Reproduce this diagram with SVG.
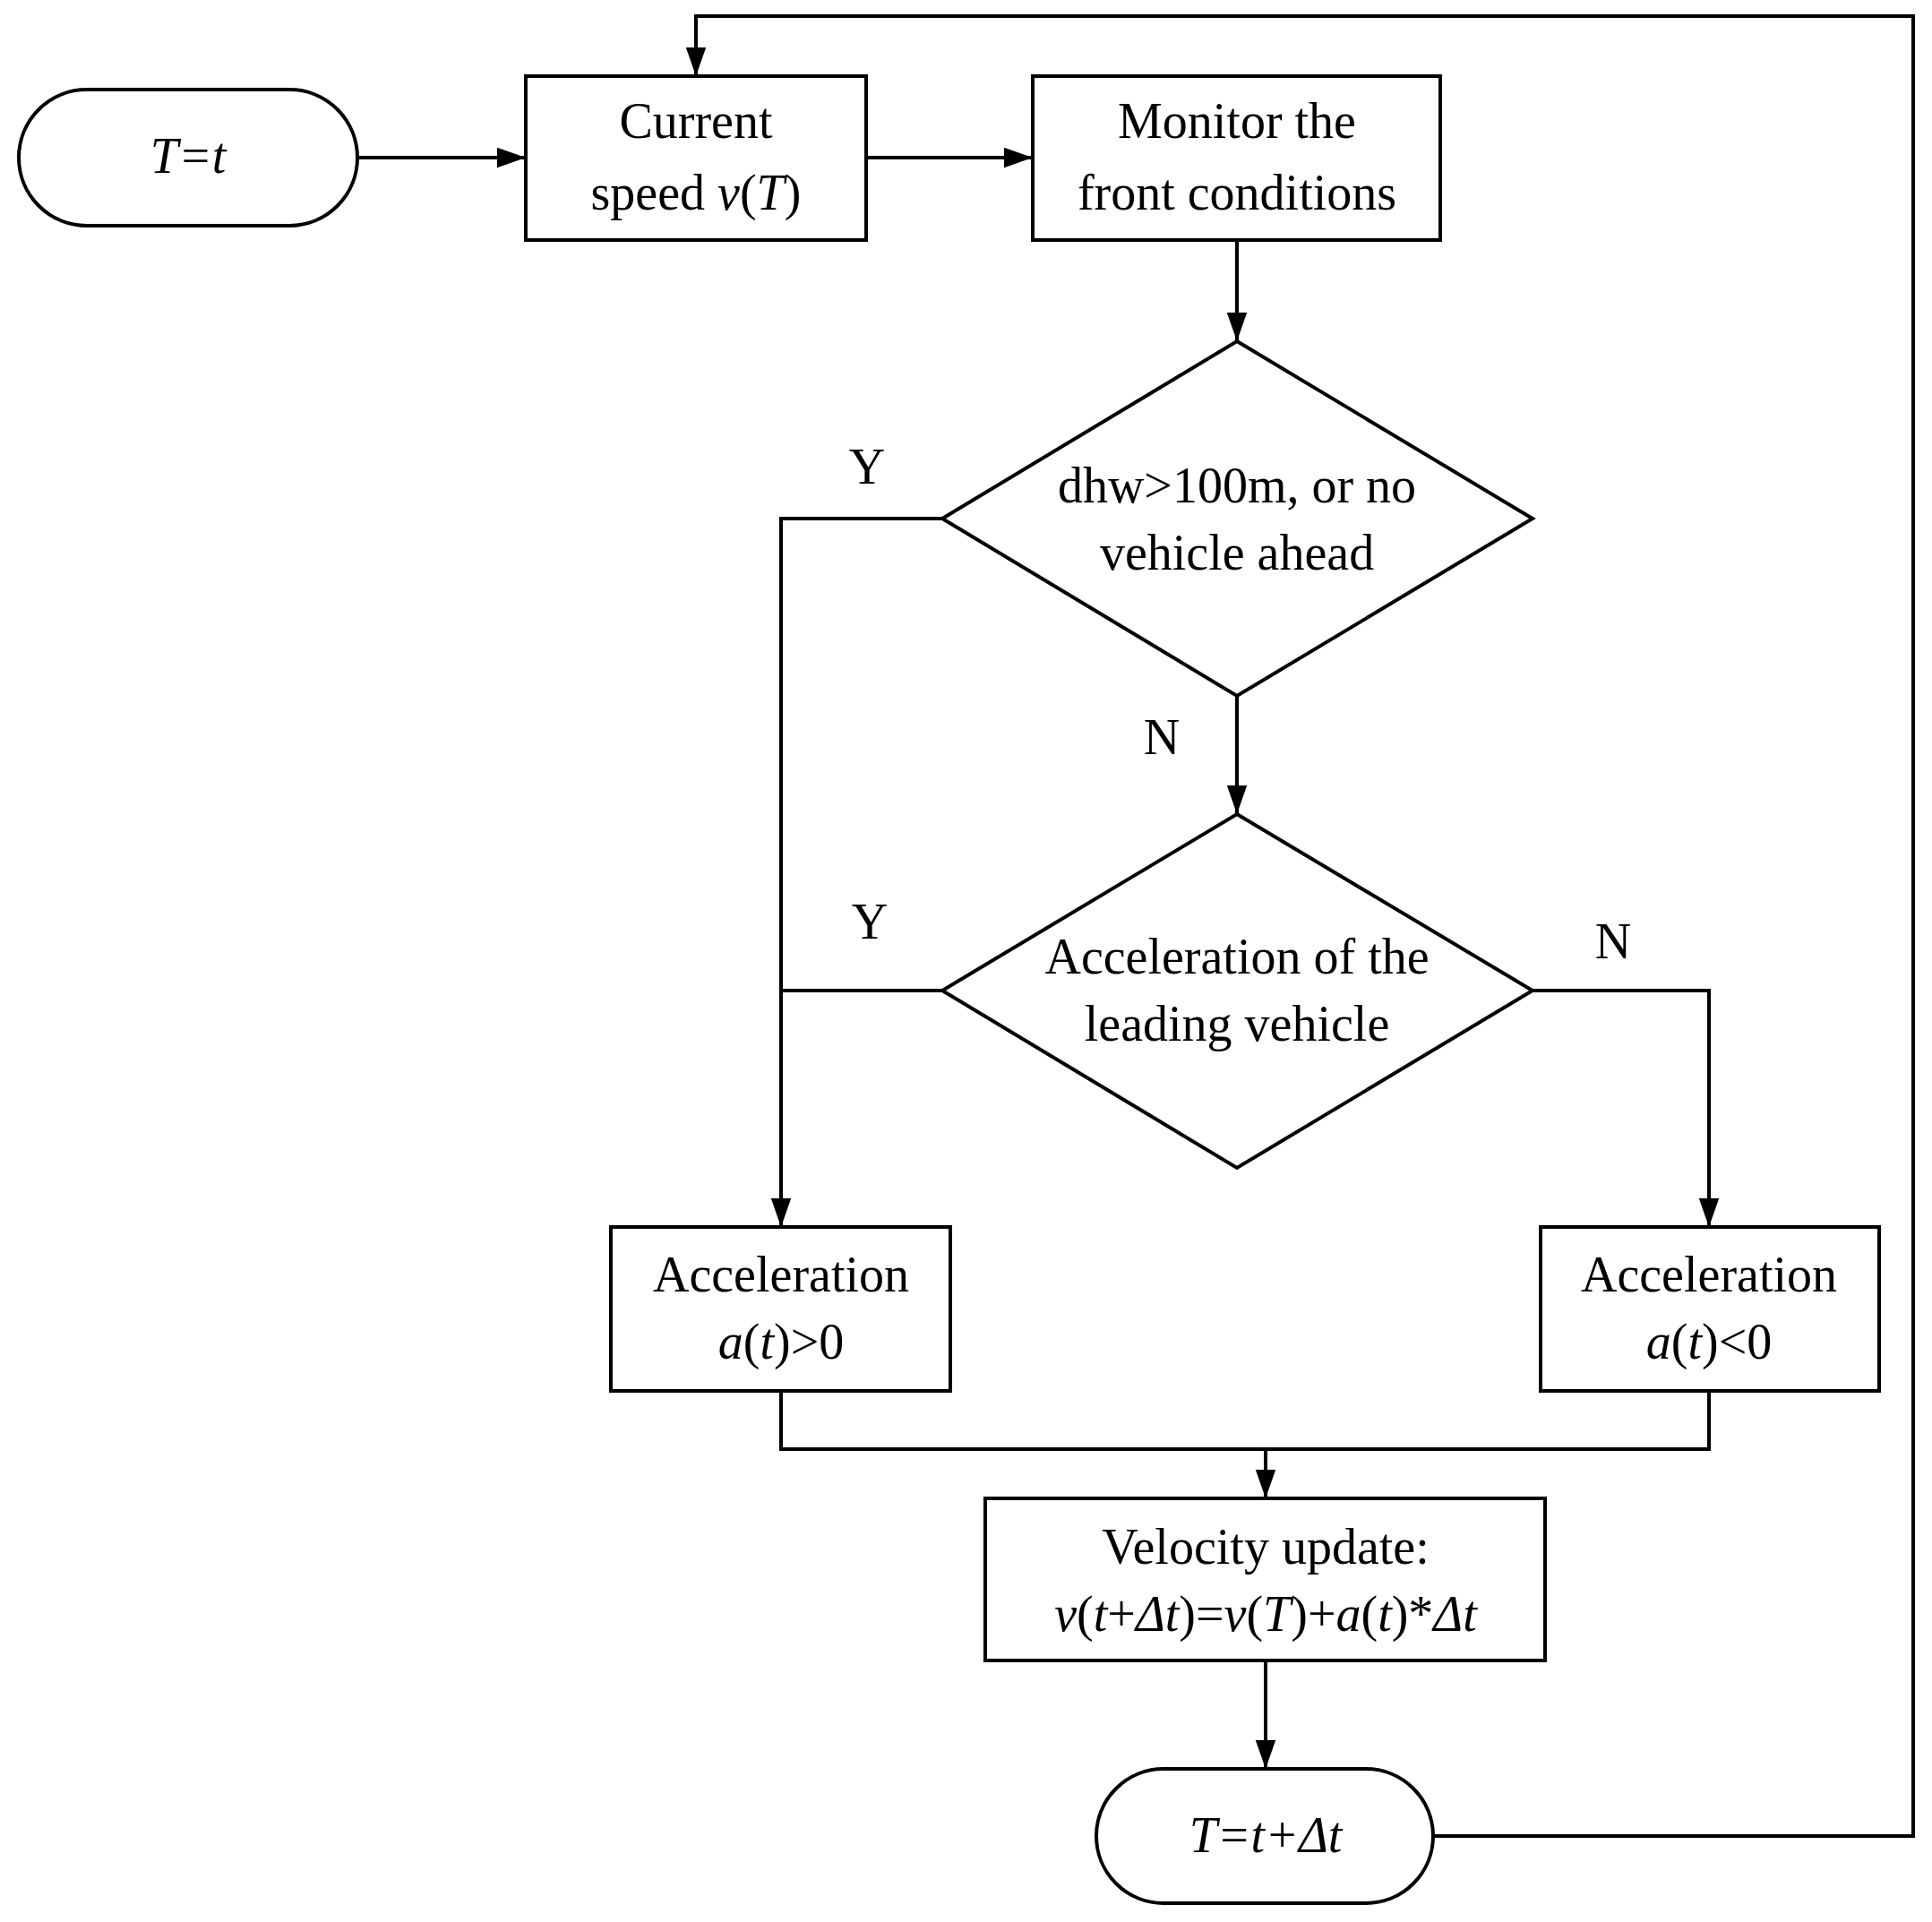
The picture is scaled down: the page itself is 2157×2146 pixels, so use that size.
<svg xmlns="http://www.w3.org/2000/svg" width="2157" height="2146" viewBox="0 0 2157 2146">
<style>
.s{fill:#fff;stroke:#000;stroke-width:4}
.c{fill:none;stroke:#000;stroke-width:4}
text{font-family:"Liberation Serif","Times New Roman",serif;font-size:56px;text-anchor:middle;fill:#000}
.i{font-style:italic}
</style>
<defs><marker id="a" markerWidth="12" markerHeight="10" refX="11" refY="5" orient="auto" markerUnits="userSpaceOnUse" viewBox="0 0 12 10"><path d="M0,0L12,5L0,10Z"/></marker>
<marker id="b" viewBox="0 0 10 10" refX="10" refY="5" markerWidth="32" markerHeight="32" markerUnits="userSpaceOnUse" orient="auto"><path d="M0,1.5L10,5L0,8.5Z"/></marker></defs>
<rect width="2157" height="2146" fill="#fff"/>
<g id="connectors" class="c">
<path d="M399,176H587" marker-end="url(#b)"/>
<path d="M967,176H1153" marker-end="url(#b)"/>
<path d="M1381,268V381" marker-end="url(#b)"/>
<path d="M1381,777V909" marker-end="url(#b)"/>
<path d="M1052,579H872V1370" marker-end="url(#b)"/>
<path d="M1052,1106H872"/>
<path d="M1711,1106H1908V1370" marker-end="url(#b)"/>
<path d="M872,1553V1618H1908V1553"/>
<path d="M1413,1618V1673" marker-end="url(#b)"/>
<path d="M1413,1854V1975" marker-end="url(#b)"/>
<path d="M1600,2050H2136V18H777V85" marker-end="url(#b)"/>
</g>
<g id="start"><rect class="s" x="21" y="100" width="378" height="152" rx="76"/><text x="210" y="193" class="i">T=t</text></g>
<g id="current"><rect class="s" x="587" y="85" width="380" height="183"/><text x="777" y="154">Current</text><text x="777" y="234">speed  <tspan class="i">v</tspan>(<tspan class="i">T</tspan>)</text></g>
<g id="monitor"><rect class="s" x="1153" y="85" width="455" height="183"/><text x="1381" y="154">Monitor the</text><text x="1381" y="234">front conditions</text></g>
<g id="d1"><path class="s" d="M1381,381L1711,579L1381,777L1052,579Z"/><text x="1381" y="561">dhw&gt;100m, or no</text><text x="1381" y="636">vehicle ahead</text></g>
<g id="d2"><path class="s" d="M1381,909L1711,1106L1381,1304L1052,1106Z"/><text x="1381" y="1087">Acceleration of the</text><text x="1381" y="1162">leading vehicle</text></g>
<g id="acc1"><rect class="s" x="682" y="1370" width="379" height="183"/><text x="872" y="1442">Acceleration</text><text x="872" y="1517"><tspan class="i">a</tspan>(<tspan class="i">t</tspan>)&gt;0</text></g>
<g id="acc2"><rect class="s" x="1720" y="1370" width="378" height="183"/><text x="1908" y="1442">Acceleration</text><text x="1908" y="1517"><tspan class="i">a</tspan>(<tspan class="i">t</tspan>)&lt;0</text></g>
<g id="vel"><rect class="s" x="1100" y="1673" width="625" height="181"/><text x="1413" y="1746">Velocity update:</text><text x="1413" y="1821"><tspan class="i">v</tspan>(<tspan class="i">t</tspan>+<tspan class="i">Δt</tspan>)=<tspan class="i">v</tspan>(<tspan class="i">T</tspan>)+<tspan class="i">a</tspan>(<tspan class="i">t</tspan>)*<tspan class="i">Δt</tspan></text></g>
<g id="end"><rect class="s" x="1224" y="1975" width="376" height="150" rx="75"/><text x="1413" y="2068" class="i">T=t+Δt</text></g>
<g id="labels"><text x="968" y="540">Y</text><text x="1297" y="842">N</text><text x="971" y="1048">Y</text><text x="1801" y="1070">N</text></g>
</svg>
